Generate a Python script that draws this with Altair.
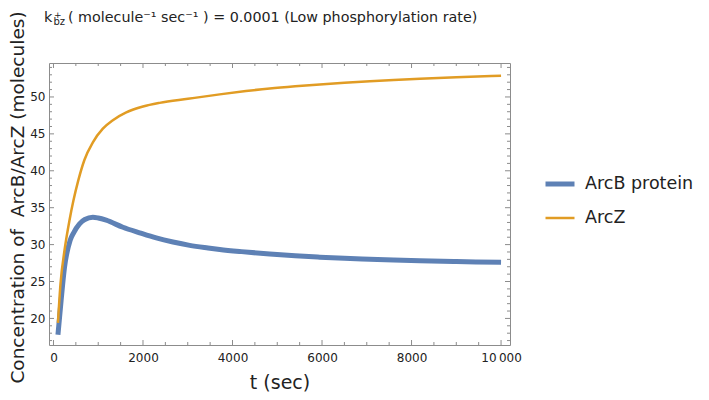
import altair as alt
import pandas as pd

# ---------------- data ----------------
SERIES = ["ArcB protein", "ArcZ"]
COLORS = ["#5E81B5", "#E19C24"]
WIDTHS = [5, 2.5]

T_ARCB = [100, 170, 246, 373, 450, 582, 700, 880, 1000, 1178, 1551, 1924, 2297, 2670,
          3043, 3453, 3714, 4200, 4832, 5400, 5950, 6500, 7069, 7600, 8188, 9000, 10000]
V_ARCB = [17.8, 22.4, 26.9, 30.6, 31.6, 32.8, 33.4, 33.7, 33.6, 33.3, 32.35, 31.6, 30.9, 30.35,
          29.9, 29.55, 29.35, 29.05, 28.72, 28.48, 28.3, 28.15, 28.02, 27.9, 27.8, 27.7, 27.6]

T_ARCZ = [100, 157, 246, 358, 447, 550, 693, 880, 1103, 1327, 1626, 2000, 2371, 3005,
          3714, 4300, 4832, 5400, 5950, 6500, 7069, 7600, 8188, 9000, 10000]
V_ARCZ = [19.4, 24.7, 29.2, 33.3, 36.0, 38.6, 41.5, 43.85, 45.7, 46.85, 47.9, 48.7, 49.2, 49.75,
          50.35, 50.8, 51.15, 51.45, 51.7, 51.93, 52.14, 52.31, 52.48, 52.68, 52.86]

X_MAJOR = [0, 2000, 4000, 6000, 8000, 10000]
X_MINOR = [500, 1000, 1500, 2500, 3000, 3500, 4500, 5000, 5500,
           6500, 7000, 7500, 8500, 9000, 9500]
Y_MAJOR = [20, 25, 30, 35, 40, 45, 50]
Y_MINOR = [17, 18, 19, 21, 22, 23, 24, 26, 27, 28, 29, 31, 32, 33, 34, 36, 37, 38, 39,
           41, 42, 43, 44, 46, 47, 48, 49, 51, 52, 53, 54]

X_DOMAIN = [-100, 10200]
Y_DOMAIN = [16.4, 54.6]

X_TITLE = "t (sec)"
Y_TITLE = "Concentration of \u00a0ArcB/ArcZ (molecules)"
TITLE_K = ["k"]
TITLE_SUP = ["+"]
TITLE_SUB = ["bz"]
TITLE_REST = ["( molecule\u207b\u00b9 sec\u207b\u00b9 ) = 0.0001 (Low phosphorylation rate)"]

# ---------------- layout ----------------
W, H = 461, 282
FRAME = "#8c8c8c"
TXT = "#222222"
FONT = "DejaVu Sans"
MAJ, MIN = 5, 3

df = pd.concat([
    pd.DataFrame({"t": T_ARCB, "v": V_ARCB, "series": SERIES[0]}),
    pd.DataFrame({"t": T_ARCZ, "v": V_ARCZ, "series": SERIES[1]}),
])

xsc = alt.Scale(domain=X_DOMAIN, nice=False, zero=False)
ysc = alt.Scale(domain=Y_DOMAIN, nice=False, zero=False)

AX = alt.Axis(values=X_MAJOR, title=X_TITLE, ticks=False, tickSize=0, format="d",
              domain=False, grid=False, labelPadding=7, labelFontSize=12,
              labelFlush=False, labelOverlap=False, labelColor=TXT, labelFont=FONT,
              labelExpr="datum.value === 10000 ? '10\u2009000' : datum.label",
              titleFontSize=19, titleFontWeight="normal", titleColor=TXT, titleFont=FONT,
              titlePadding=10)
AY = alt.Axis(values=Y_MAJOR, title=Y_TITLE, ticks=False, tickSize=0,
              domain=False, grid=False, labelPadding=4, labelFontSize=12,
              labelFlush=False, labelOverlap=False, labelColor=TXT, labelFont=FONT,
              titleFontSize=18.5, titleFontWeight="normal", titleColor=TXT, titleFont=FONT,
              titlePadding=2, titleY=134)

leg = alt.Legend(title=None, orient="none", legendX=494, legendY=104,
                 symbolType="stroke", symbolSize=841, labelFontSize=17.5,
                 labelOffset=8, rowPadding=8, labelColor=TXT, labelFont=FONT)

lines = alt.Chart(df).mark_line(interpolate="monotone").encode(
    x=alt.X("t:Q", scale=xsc, axis=AX),
    y=alt.Y("v:Q", scale=ysc, axis=AY),
    color=alt.Color("series:N", scale=alt.Scale(domain=SERIES, range=COLORS), legend=leg),
    strokeWidth=alt.StrokeWidth("series:N", scale=alt.Scale(domain=SERIES, range=WIDTHS),
                                legend=leg),
)


def xticks(vals, length):
    d = pd.DataFrame({"t": vals})
    bottom = alt.Chart(d).mark_rule(color=FRAME, strokeWidth=1).encode(
        x=alt.X("t:Q", scale=xsc, axis=AX), y=alt.value(H), y2=alt.value(H - length))
    top = alt.Chart(d).mark_rule(color=FRAME, strokeWidth=1).encode(
        x=alt.X("t:Q", scale=xsc, axis=AX), y=alt.value(0), y2=alt.value(length))
    return [bottom, top]


def yticks(vals, length):
    d = pd.DataFrame({"v": vals})
    left = alt.Chart(d).mark_rule(color=FRAME, strokeWidth=1).encode(
        y=alt.Y("v:Q", scale=ysc, axis=AY), x=alt.value(0), x2=alt.value(length))
    right = alt.Chart(d).mark_rule(color=FRAME, strokeWidth=1).encode(
        y=alt.Y("v:Q", scale=ysc, axis=AY), x=alt.value(W), x2=alt.value(W - length))
    return [left, right]


def text_layer(vals, x, y, size):
    return alt.Chart(pd.DataFrame({"s": vals})).mark_text(
        align="left", baseline="alphabetic", fontSize=size, font=FONT, color=TXT
    ).encode(text="s:N", x=alt.value(x), y=alt.value(y))


layers = [lines]
layers += xticks(X_MAJOR, MAJ) + xticks(X_MINOR, MIN)
layers += yticks(Y_MAJOR, MAJ) + yticks(Y_MINOR, MIN)
layers += [
    text_layer(TITLE_K, -5, -41, 14.5),
    text_layer(TITLE_SUP, 5, -45, 9),
    text_layer(TITLE_SUB, 4.5, -38, 10),
    text_layer(TITLE_REST, 19, -41, 14.3),
]

chart = alt.layer(*layers).properties(
    width=W, height=H,
    autosize=alt.AutoSizeParams(type="none"),
    padding={"left": 41, "top": 55, "right": 191, "bottom": 47},
).configure(font=FONT).configure_view(stroke=FRAME, strokeWidth=1)

chart.save("out.html", embed_options={"renderer": "svg", "actions": False})
